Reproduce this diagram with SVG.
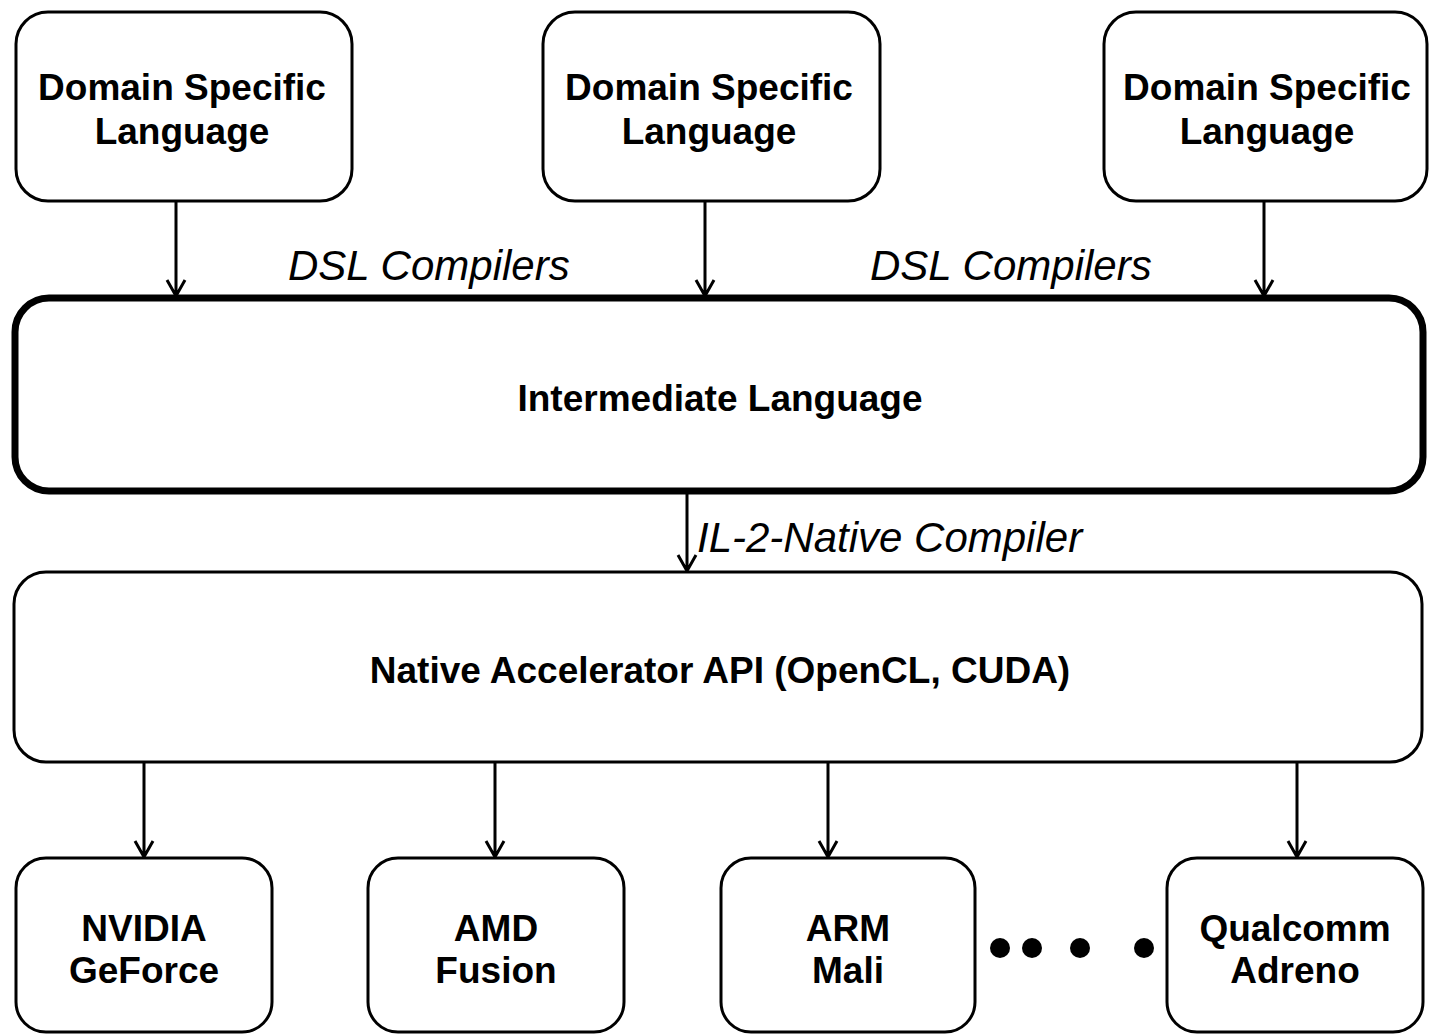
<svg xmlns="http://www.w3.org/2000/svg" width="1429" height="1035" viewBox="0 0 1429 1035">
<defs>
<style>
.box{fill:#fff;stroke:#000;stroke-width:3}
.il{fill:#fff;stroke:#000;stroke-width:7}
.b{font-family:"Liberation Sans",Arial,sans-serif;font-weight:bold;font-size:37px;text-anchor:middle;fill:#000}
.i{font-family:"Liberation Sans",Arial,sans-serif;font-style:italic;font-size:42px;fill:#000}
.c{stroke:#000;stroke-width:3;fill:none}
</style>
</defs>
<rect width="1429" height="1035" fill="#fff"/>
<g id="connectors">
<path class="c" d="M176 201V296M167 280L176 296L185 280"/>
<path class="c" d="M705 201V296M696 280L705 296L714 280"/>
<path class="c" d="M1264 201V296M1255 280L1264 296L1273 280"/>
<path class="c" d="M687 492V571M678 555L687 571L696 555"/>
<path class="c" d="M144 762V857M135 841L144 857L153 841"/>
<path class="c" d="M495 762V857M486 841L495 857L504 841"/>
<path class="c" d="M828 762V857M819 841L828 857L837 841"/>
<path class="c" d="M1297 762V857M1288 841L1297 857L1306 841"/>
</g>
<g id="labels">
<text class="i" x="288" y="280">DSL Compilers</text>
<text class="i" x="870" y="280">DSL Compilers</text>
<text class="i" x="697" y="552">IL-2-Native Compiler</text>
</g>
<g id="dsl1"><rect class="box" x="16" y="12" width="336" height="189" rx="32"/><text class="b" x="182" y="100">Domain Specific</text><text class="b" x="182" y="144">Language</text></g>
<g id="dsl2"><rect class="box" x="543" y="12" width="337" height="189" rx="32"/><text class="b" x="709" y="100">Domain Specific</text><text class="b" x="709" y="144">Language</text></g>
<g id="dsl3"><rect class="box" x="1104" y="12" width="323" height="189" rx="32"/><text class="b" x="1267" y="100">Domain Specific</text><text class="b" x="1267" y="144">Language</text></g>
<g id="il"><rect class="il" x="15" y="298" width="1408" height="193" rx="34"/><text class="b" x="720" y="411">Intermediate Language</text></g>
<g id="native"><rect class="box" x="14" y="572" width="1408" height="190" rx="32"/><text class="b" x="720" y="683">Native Accelerator API (OpenCL, CUDA)</text></g>
<g id="nvidia"><rect class="box" x="16" y="858" width="256" height="174" rx="30"/><text class="b" x="144" y="941">NVIDIA</text><text class="b" x="144" y="983">GeForce</text></g>
<g id="amd"><rect class="box" x="368" y="858" width="256" height="174" rx="30"/><text class="b" x="496" y="941">AMD</text><text class="b" x="496" y="983">Fusion</text></g>
<g id="arm"><rect class="box" x="721" y="858" width="254" height="174" rx="30"/><text class="b" x="848" y="941">ARM</text><text class="b" x="848" y="983">Mali</text></g>
<g id="dots"><circle cx="1000" cy="948" r="10"/><circle cx="1032" cy="948" r="10"/><circle cx="1080" cy="948" r="10"/><circle cx="1144" cy="948" r="10"/></g>
<g id="qualcomm"><rect class="box" x="1167" y="858" width="256" height="174" rx="30"/><text class="b" x="1295" y="941">Qualcomm</text><text class="b" x="1295" y="983">Adreno</text></g>
</svg>
